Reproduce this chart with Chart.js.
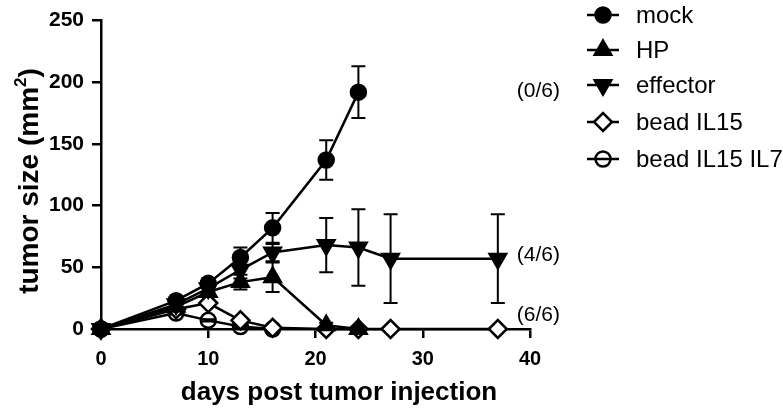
<!DOCTYPE html>
<html>
<head>
<meta charset="utf-8">
<script src="https://cdn.jsdelivr.net/npm/chart.js@4"></script>
<style>
html,body{margin:0;padding:0;background:#fff;}
#wrap{width:783px;height:412px;position:relative;}
</style>
</head>
<body>
<div id="wrap"><canvas id="c" width="783" height="412"></canvas></div>
<script>
// ---- data ----
const days = [0, 7, 10, 13, 16, 21, 24, 27, 37];
const seriesNames = ['mock', 'HP', 'effector', 'bead IL15', 'bead IL15 IL7'];
const mock = [0, 23, 37, 58, 82, 137, 192];
const mockErr = [0, 3, 4, 8, 12, 16, 21];
const hp = [0, 18, 30, 38, 42, 3, 0];
const hpErr = [0, 2, 3, 6, 12, 2, 0];
const effector = [0, 20, 33, 48, 62, 68, 66, 57, 57];
const effectorErr = [0, 2, 3, 7, 7, 22, 31, 36, 36];
const il15 = [0, 16, 21, 7, 1, 0, 0, 0, 0];
const il15Err = [0, 1, 1, 1, 0, 0, 0, 0, 0];
const il7 = [0, 13, 7, 2, 0];
const il7Err = [0, 1, 1, 1, 0];
const xTicks = [0, 10, 20, 30, 40];
const yTicks = [0, 50, 100, 150, 200, 250];
const survival = [{text: '(0/6)', value: 193}, {text: '(4/6)', value: 60}, {text: '(6/6)', value: 11}];

const FONT = '"Liberation Sans", Arial, Helvetica, sans-serif';

function pts(vals) { return vals.map((v, i) => ({x: days[i], y: v})); }

const styles = [
  {pointStyle: 'circle', radius: 7.5, bg: '#000', rot: 0},
  {pointStyle: 'triangle', radius: 9.5, bg: '#000', rot: 0},
  {pointStyle: 'triangle', radius: 9.5, bg: '#000', rot: 180},
  {pointStyle: 'rectRot', radius: 9, bg: '#fff', rot: 0},
  {pointStyle: 'circle', radius: 7.5, bg: 'rgba(0,0,0,0)', rot: 0}
];
const values = [mock, hp, effector, il15, il7];
const errors = [mockErr, hpErr, effectorErr, il15Err, il7Err];

const datasets = values.map((v, i) => ({
  label: seriesNames[i],
  data: pts(v),
  errs: errors[i],
  borderColor: '#000',
  borderWidth: 2.5,
  backgroundColor: styles[i].bg,
  pointStyle: styles[i].pointStyle,
  pointRadius: styles[i].radius,
  pointRotation: styles[i].rot,
  pointBackgroundColor: styles[i].bg,
  pointBorderColor: '#000',
  pointBorderWidth: 2.5,
  tension: 0,
  fill: false,
  clip: false
}));

const extras = {
  id: 'extras',
  beforeDatasetsDraw(chart) {
    const ctx = chart.ctx, xs = chart.scales.x, ys = chart.scales.y;
    ctx.save();
    ctx.strokeStyle = '#000';
    ctx.lineWidth = 2;
    chart.data.datasets.forEach(ds => {
      ds.data.forEach((p, i) => {
        const e = ds.errs[i];
        if (!e) return;
        const px = xs.getPixelForValue(p.x);
        const top = ys.getPixelForValue(p.y + e);
        const bot = ys.getPixelForValue(Math.max(0, p.y - e));
        ctx.beginPath();
        ctx.moveTo(px, top); ctx.lineTo(px, bot);
        ctx.moveTo(px - 7, top); ctx.lineTo(px + 7, top);
        ctx.moveTo(px - 7, bot); ctx.lineTo(px + 7, bot);
        ctx.stroke();
      });
    });
    ctx.restore();
  },
  afterDraw(chart) {
    const ctx = chart.ctx, xs = chart.scales.x, ys = chart.scales.y;
    ctx.save();
    ctx.fillStyle = '#000';
    // x title
    ctx.font = 'bold 26px ' + FONT;
    ctx.textAlign = 'center';
    ctx.textBaseline = 'middle';
    ctx.fillText('days post tumor injection', 339, 393);
    // y title with superscript
    ctx.save();
    ctx.translate(28, 181);
    ctx.rotate(-Math.PI / 2);
    const main = 'tumor size (mm';
    ctx.font = 'bold 28px ' + FONT;
    const w1 = ctx.measureText(main).width;
    ctx.font = 'bold 17px ' + FONT;
    const w2 = ctx.measureText('2').width;
    ctx.font = 'bold 28px ' + FONT;
    const w3 = ctx.measureText(')').width;
    let sx = -(w1 + w2 + w3) / 2;
    ctx.textAlign = 'left';
    ctx.textBaseline = 'alphabetic';
    ctx.fillText(main, sx, 10);
    ctx.font = 'bold 17px ' + FONT;
    ctx.fillText('2', sx + w1, -2);
    ctx.font = 'bold 28px ' + FONT;
    ctx.fillText(')', sx + w1 + w2, 10);
    ctx.restore();
    // survival annotations
    ctx.font = '21px ' + FONT;
    ctx.textAlign = 'left';
    ctx.textBaseline = 'middle';
    survival.forEach(s => {
      ctx.fillText(s.text, xs.getPixelForValue(37) + 19, ys.getPixelForValue(s.value));
    });
    // legend
    const lx = 603, rowY = [15, 50, 85, 122, 159];
    chart.data.datasets.forEach((ds, i) => {
      const y = rowY[i];
      ctx.strokeStyle = '#000';
      ctx.lineWidth = 2.5;
      if (i !== 4) {
        ctx.beginPath(); ctx.moveTo(lx - 16, y); ctx.lineTo(lx + 16, y); ctx.stroke();
      }
      ctx.fillStyle = ds.pointBackgroundColor === 'rgba(0,0,0,0)' ? '#fff' : ds.pointBackgroundColor;
      Chart.helpers.drawPoint(ctx, {
        pointStyle: ds.pointStyle, radius: ds.pointRadius, rotation: ds.pointRotation, borderWidth: 2.5
      }, lx, y);
      if (i === 4) {
        ctx.beginPath(); ctx.moveTo(lx - 16, y); ctx.lineTo(lx + 16, y); ctx.stroke();
      }
      ctx.fillStyle = '#000';
      ctx.font = '24px ' + FONT;
      ctx.textAlign = 'left';
      ctx.textBaseline = 'middle';
      ctx.fillText(ds.label, 636, y + 1);
    });
    ctx.restore();
  }
};

new Chart(document.getElementById('c'), {
  type: 'line',
  data: {datasets},
  options: {
    responsive: false,
    animation: false,
    events: [],
    layout: {padding: {left: 0, right: 253, top: 13, bottom: 0}},
    plugins: {legend: {display: false}, tooltip: {enabled: false}, title: {display: false}},
    scales: {
      x: {
        type: 'linear', min: 0, max: 40,
        afterFit(s) { s.height = 83; },
        afterBuildTicks(s) { s.ticks = xTicks.map(v => ({value: v})); },
        border: {display: true, color: '#000', width: 2.5},
        grid: {display: true, drawOnChartArea: false, drawTicks: true, tickLength: 9, color: '#000', lineWidth: 2.5},
        ticks: {color: '#000', font: {family: FONT, size: 20, weight: 'bold'}, padding: 9, maxRotation: 0}
      },
      y: {
        type: 'linear', min: 0, max: 250,
        afterFit(s) { s.width = 101; },
        afterBuildTicks(s) { s.ticks = yTicks.map(v => ({value: v})); },
        border: {display: true, color: '#000', width: 2.5},
        grid: {display: true, drawOnChartArea: false, drawTicks: true, tickLength: 9, color: '#000', lineWidth: 2.5},
        ticks: {color: '#000', font: {family: FONT, size: 21, weight: 'bold'}, padding: 8}
      }
    }
  },
  plugins: [extras]
});
</script>
</body>
</html>
